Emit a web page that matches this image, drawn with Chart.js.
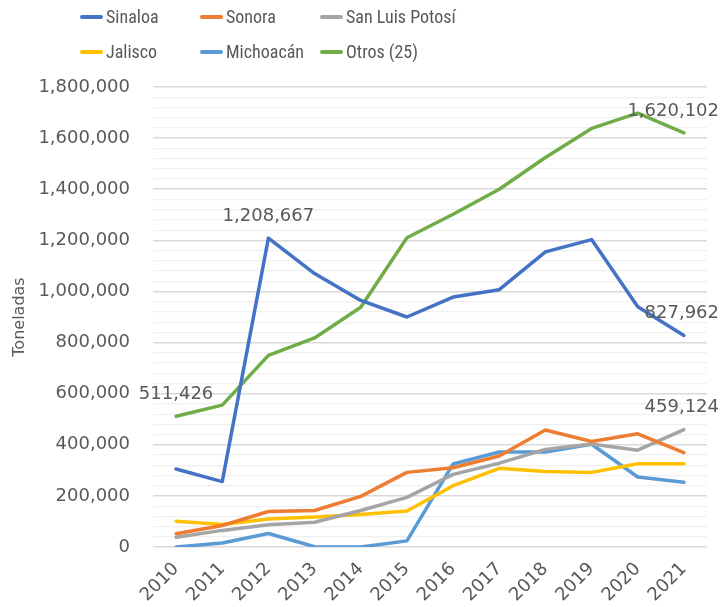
<!DOCTYPE html>
<html>
<head>
<meta charset="utf-8">
<script src="https://cdn.jsdelivr.net/npm/chart.js@4.4.1/dist/chart.umd.min.js"></script>
<style>
  html, body { margin: 0; padding: 0; background: #fff; }
  #wrap { position: relative; width: 723px; height: 607px; }
  #legend {
    position: absolute; left: 80px; top: 4px;
    display: grid; grid-template-columns: 120px 120px 160px; row-gap: 10px;
    font-family: "Liberation Sans Narrow", "Roboto Condensed", Roboto, sans-serif;
    font-size: 18px; color: #595959;
  }
  .item { display: flex; align-items: center; height: 25px; white-space: nowrap; }
  .swatch { width: 23px; height: 4px; border-radius: 2px; margin-right: 3px; }
</style>
</head>
<body>
<div id="wrap">
  <canvas id="plot" width="723" height="607"></canvas>
  <div id="legend"></div>
</div>
<script>
const plot = document.querySelector("#plot");
const ctx = plot.getContext("2d");
const legend_div = document.querySelector("#legend");

const years = ["2010", "2011", "2012", "2013", "2014", "2015", "2016", "2017", "2018", "2019", "2020", "2021"];

const sinaloa = [305000, 256000, 1208667, 1070000, 965000, 900000, 978000, 1007000, 1155000, 1203000, 940000, 827962];
const sonora = [52000, 84000, 139000, 143000, 198000, 292000, 310000, 356000, 458000, 413000, 443000, 369000];
const sanLuis = [38000, 65000, 87000, 97000, 143000, 194000, 284000, 328000, 382000, 403000, 379000, 459124];
const jalisco = [101000, 88000, 110000, 117000, 127000, 141000, 240000, 308000, 295000, 292000, 326000, 326000];
const michoacan = [0, 16000, 53000, 1000, 0, 24000, 325000, 372000, 372000, 402000, 274000, 253000];
const otros = [511426, 555000, 750000, 818000, 938000, 1210000, 1302000, 1400000, 1524000, 1638000, 1698000, 1620102];

const names = ["Sinaloa", "Sonora", "San Luis Potosí", "Jalisco", "Michoacán", "Otros (25)"];
const colors = ["#4472C4", "#ED7D31", "#A5A5A5", "#FFC000", "#5B9BD5", "#70AD47"];
const series = [sinaloa, sonora, sanLuis, jalisco, michoacan, otros];

// which points get a value label, per series
const labelled = [[2, 11], [], [11], [], [], [0, 11]];

const TEXT = "#595959";
const FONT = "'DejaVu Sans', sans-serif";

// html legend, 3 columns like the original
names.forEach((n, i) => {
  const d = document.createElement("div");
  d.className = "item";
  d.innerHTML = '<span class="swatch" style="background:' + colors[i] + '"></span>' + n;
  legend_div.appendChild(d);
});

const fmt = v => v.toLocaleString("en-US");

const valueLabels = {
  id: "valueLabels",
  afterDatasetsDraw(chart) {
    const c = chart.ctx;
    c.save();
    c.font = "18px " + FONT;
    c.fillStyle = TEXT;
    c.textAlign = "center";
    c.textBaseline = "middle";
    chart.data.datasets.forEach((ds, i) => {
      const meta = chart.getDatasetMeta(i);
      labelled[i].forEach(j => {
        const p = meta.data[j];
        const txt = fmt(ds.data[j]);
        const w = c.measureText(txt).width;
        let x = p.x;
        if (x + w / 2 > chart.width - 4) x = chart.width - 4 - w / 2;
        c.fillText(txt, x, p.y - 22);
      });
    });
    c.restore();
  }
};

let datasets = [];
for (let i = 0; i < series.length; i++) {
  datasets.push({
    label: names[i],
    data: series[i],
    borderColor: colors[i],
    backgroundColor: colors[i],
    borderWidth: 3.5,
    pointRadius: 0,
    tension: 0,
    borderJoinStyle: "round",
    borderCapStyle: "round"
  });
}

const chart = new Chart(ctx, {
  type: "line",
  data: { labels: years, datasets },
  options: {
    responsive: false,
    animation: false,
    layout: { padding: { top: 87, right: 16, left: 6, bottom: 0 } },
    plugins: {
      legend: { display: false },
      tooltip: { enabled: false }
    },
    scales: {
      x: {
        offset: true,
        afterFit: s => { s.height = 60; },
        grid: { display: false },
        border: { display: false },
        ticks: {
          color: TEXT,
          font: { family: FONT, size: 18 },
          minRotation: 45,
          maxRotation: 45,
          padding: 3.5
        }
      },
      y: {
        min: 0,
        max: 1800000,
        border: { display: false },
        afterFit: s => { s.width = 147; },
        grid: {
          drawTicks: false,
          color: c => (c.tick && c.tick.value % 200000 === 0 ? "#d9d9d9" : "#f0f0f0"),
          lineWidth: c => (c.tick && c.tick.value % 200000 === 0 ? 1.5 : 1.2)
        },
        ticks: {
          stepSize: 40000,
          autoSkip: false,
          padding: 23,
          color: TEXT,
          font: { family: FONT, size: 18 },
          callback: v => (v % 200000 === 0 ? fmt(v) : "")
        },
        title: {
          display: true,
          text: "Toneladas",
          color: TEXT,
          font: { family: FONT, size: 16 },
          padding: 4
        }
      }
    }
  },
  plugins: [valueLabels]
});
</script>
</body>
</html>
